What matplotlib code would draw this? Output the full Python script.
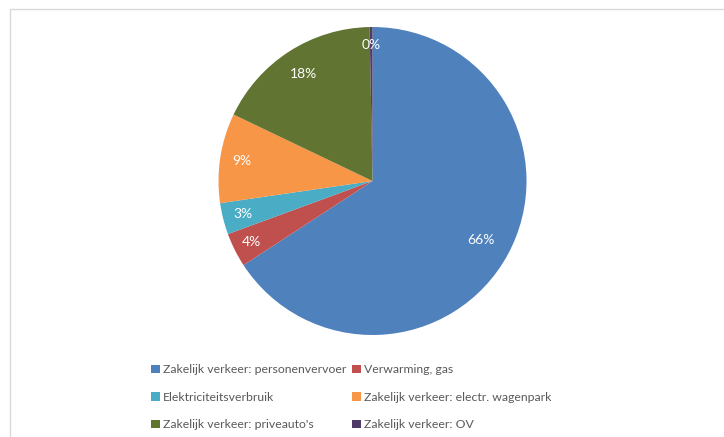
import matplotlib.pyplot as plt
import numpy as np
from matplotlib.patches import Rectangle

# Slice data, clockwise from 12 o'clock
labels = [
    "Zakelijk verkeer: personenvervoer",
    "Verwarming, gas",
    "Elektriciteitsverbruik",
    "Zakelijk verkeer: electr. wagenpark",
    "Zakelijk verkeer: priveauto's",
    "Zakelijk verkeer: OV",
]
shares = [65.8, 3.6, 3.3, 9.4, 17.6, 0.3]
colors = ["#4F81BD", "#C0504D", "#4BACC6", "#F79646", "#617431", "#4E3B66"]
# distance of each percentage label from the centre (fraction of radius)
label_dist = [0.80, 0.88, 0.87, 0.86, 0.83, 0.88]

plt.rcParams['font.family'] = ['Lato', 'DejaVu Sans']

W, H = 724, 437
fig = plt.figure(figsize=(W / 100, H / 100), dpi=100)

# light chart frame
fig.patches.append(Rectangle((10 / W, -0.1), 1.2, (H - 9) / H + 0.1,
                             transform=fig.transFigure, fill=False,
                             edgecolor="#D9D9D9", lw=1))

cx, cy, r = 372.5, 181, 154
ax = fig.add_axes([(cx - r) / W, 1 - (cy + r) / H, 2 * r / W, 2 * r / H])
wedges, texts = ax.pie(shares, colors=colors, startangle=90, counterclock=False,
                       radius=1.0, wedgeprops=dict(linewidth=0))
ax.set_xlim(-1, 1)
ax.set_ylim(-1, 1)
ax.set_aspect('equal')
ax.axis('off')

total = sum(shares)
for w, v, d in zip(wedges, shares, label_dist):
    mid = np.deg2rad((w.theta1 + w.theta2) / 2)
    ax.text(d * np.cos(mid), d * np.sin(mid), f"{round(v / total * 100)}%",
            ha='center', va='center', color='white', fontsize=10)

# legend filled row by row, two columns
order = [0, 2, 4, 1, 3, 5]
leg = fig.legend([wedges[i] for i in order], [labels[i] for i in order],
                 loc='upper left', bbox_to_anchor=(145 / W, 1 - 358 / H),
                 ncol=2, frameon=False, fontsize=8.8, handlelength=0.7, handleheight=0.7,
                 handletextpad=0.3, columnspacing=0.45, labelspacing=1.35,
                 borderpad=0)
for t in leg.get_texts():
    t.set_color("#595959")

fig.savefig("out.png", dpi=100)
